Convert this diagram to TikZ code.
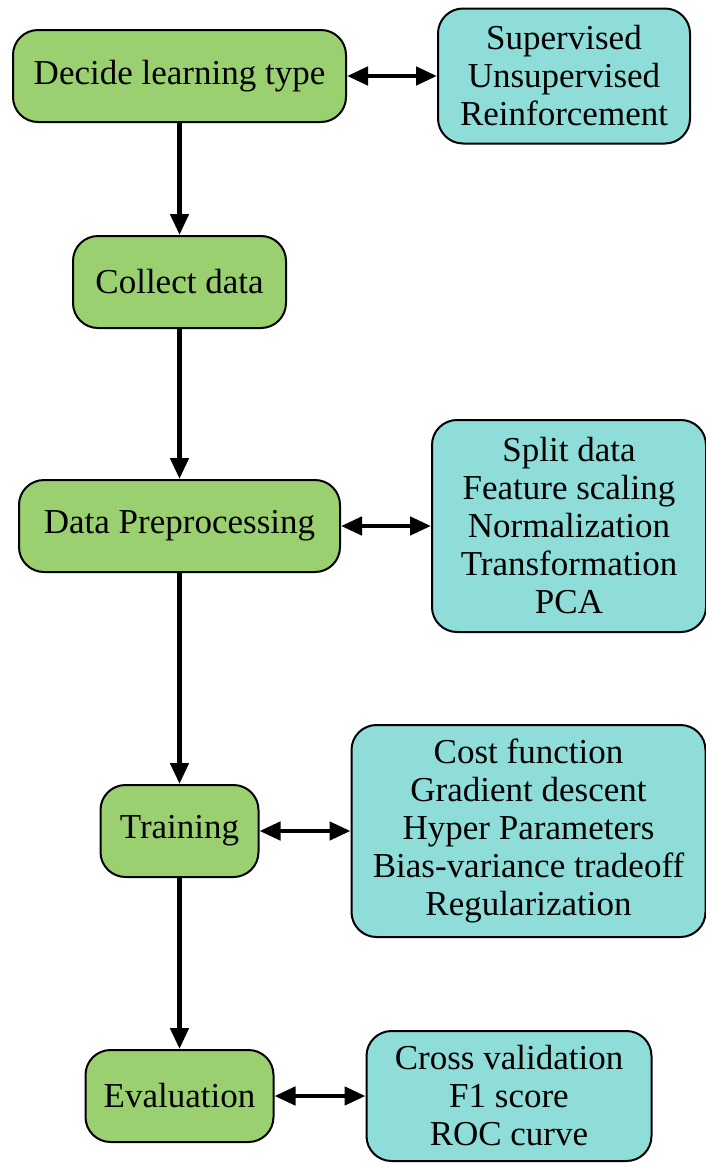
\documentclass[tikz,border=0pt]{standalone}
\usepackage{fontspec}
\setmainfont{Liberation Serif}
\usepackage{tikz}
\usetikzlibrary{arrows.meta, positioning}
\definecolor{stagegreen}{RGB}{155,208,112}
\definecolor{detailcyan}{RGB}{142,221,217}
\tikzset{
  stage/.style={rectangle,draw=black,fill=stagegreen,align=center,
    minimum height=46pt,font=\fontsize{17.5}{19}\selectfont,rounded corners=12.5pt,line width=1pt,inner sep=2pt},
  detail/.style={rectangle,draw=black,fill=detailcyan,align=center,
    font=\fontsize{17.5}{19}\selectfont,rounded corners=12.5pt,line width=1pt,inner sep=2pt},
  arrow/.style={-{Triangle[length=10.5pt,width=9pt]},line width=2.3pt,color=black},
  dblarrow/.style={{Triangle[length=10.5pt,width=9pt]}-{Triangle[length=10.5pt,width=9pt]},line width=2.3pt,color=black}
}

\begin{document}
\begin{tikzpicture}[node distance=56pt and 45pt]
  \useasboundingbox (0,0) rectangle (353pt,-581.5pt);
  \node[stage, minimum width=166.5pt] (decide) at (89.75pt,-38pt) {Decide learning type};
  \node[stage, minimum width=106.5pt, below=56pt of decide]  (collect) {Collect data};
  \node[stage, minimum width=160.5pt, below=75pt of collect] (prep) {Data Preprocessing};
  \node[stage, minimum width=79pt, below=105.5pt of prep]    (train) {Training};
  \node[stage, minimum width=94pt, below=85.5pt of train]    (eval) {Evaluation};

  \node[detail, minimum width=126pt, minimum height=67.5pt, right=45pt of decide] (types)
    {Supervised\\Unsupervised\\Reinforcement};
  \node[detail, minimum width=137pt, minimum height=106pt, right=45pt of prep] (prepinfo)
    {Split data\\Feature scaling\\Normalization\\Transformation\\PCA};
  \node[detail, minimum width=177pt, minimum height=106pt, right=45.5pt of train] (traininfo)
    {Cost function\\Gradient descent\\Hyper Parameters\\Bias-variance tradeoff\\Regularization};
  \node[detail, minimum width=142.5pt, minimum height=65pt, right=45.5pt of eval] (evalinfo)
    {Cross validation\\F1 score\\ROC curve};

  \draw[arrow] (decide)  -- (collect);
  \draw[arrow] (collect) -- (prep);
  \draw[arrow] (prep)    -- (train);
  \draw[arrow] (train)   -- (eval);
  \draw[dblarrow] (decide) -- (types);
  \draw[dblarrow] (prep)   -- (prepinfo);
  \draw[dblarrow] (train)  -- (traininfo);
  \draw[dblarrow] (eval)   -- (evalinfo);
\end{tikzpicture}
\end{document}
